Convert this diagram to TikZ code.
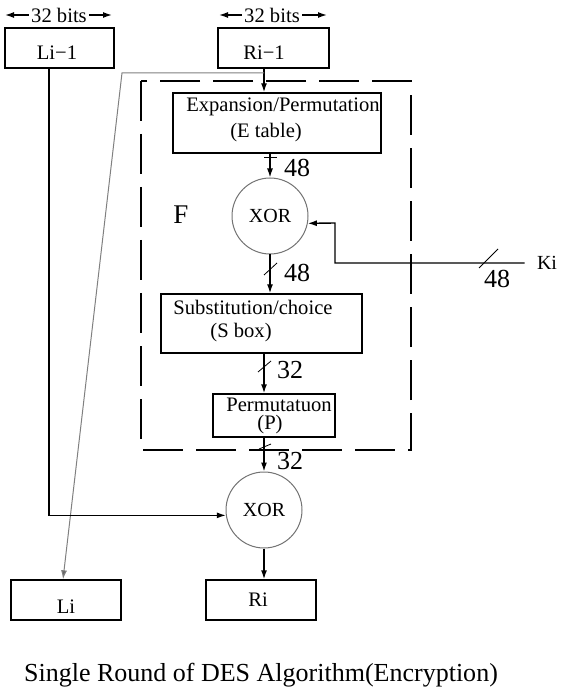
\documentclass[tikz,border=0pt]{standalone}
\usepackage{fontspec}
\setmainfont{Liberation Serif}
\usetikzlibrary{arrows.meta,calc}

\begin{document}
\begin{tikzpicture}[x=0.5pt, y=-0.5pt,
	box/.style={draw, line width=0.7pt, inner sep=0pt},
	xorgate/.style={circle, draw=black!55, line width=0.5pt, minimum size=38pt, inner sep=0pt, font=\fontsize{10}{12}\selectfont},
	arr/.style={line width=0.7pt, -{Latex[length=4.5pt, width=3pt]}},
	grayarr/.style={draw=black!50, line width=0.5pt, -{Latex[length=4.5pt, width=3pt, fill=black!60]}},
	slash/.style={line width=0.4pt},
	fbox/.style={line width=0.7pt, dash pattern=on 20pt off 6.5pt},
	btxt/.style={inner sep=1pt, font=\fontsize{10.3}{12}\selectfont},
	wlabel/.style={inner sep=0pt, font=\fontsize{13}{15}\selectfont}]
	\useasboundingbox (0,0) rectangle (561,694);

	% Define the nodes with specific positions
	\node[btxt] (lbits) at (59,15) {32 bits};
	\node[btxt] (rbits) at (272,15) {32 bits};
	\coordinate (lbitsa) at (5,15);
	\coordinate (lbitsb) at (112,15);
	\coordinate (rbitsa) at (219,15);
	\coordinate (rbitsb) at (327,15);

	\node[box, minimum width=54.5pt, minimum height=20pt] (lprev) at (59.5,48) {};
	\node[btxt] (lprevtxt) at (57,53) {Li−1};
	\node[box, minimum width=55.5pt, minimum height=20pt] (rprev) at (273.5,48) {};
	\node[btxt] (rprevtxt) at (264,53) {Ri−1};

	\node[box, minimum width=104pt, minimum height=30pt] (ep) at (277,123) {};
	\node[btxt] (eptxta) at (283,107) {Expansion/Permutation};
	\node[btxt] (eptxtb) at (266,133) {(E table)};

	\node[xorgate] (xor1) at (270,216) {XOR};
	\node[inner sep=0pt, font=\fontsize{13.5}{15}\selectfont] (flabel) at (181,215) {F};
	\node[inner xsep=6pt, inner ysep=1pt, font=\fontsize{10}{12}\selectfont] (ki) at (547,263) {Ki};
	\coordinate (kbend) at (335,223);

	\node[box, minimum width=100.5pt, minimum height=29.5pt] (sb) at (261.5,323.5) {};
	\node[btxt] (sbtxta) at (253,307) {Substitution/choice};
	\node[btxt] (sbtxtb) at (241,333) {(S box)};

	\node[box, minimum width=61pt, minimum height=21.5pt] (pm) at (274,415.5) {};
	\node[btxt] (pmtxta) at (279,405) {Permutatuon};
	\node[btxt] (pmtxtb) at (270,425) {(P)};

	\node[xorgate] (xor2) at (264,510) {XOR};

	\node[box, minimum width=55pt, minimum height=20pt] (li) at (66,600) {};
	\node[btxt] (litxt) at (66,607) {Li};
	\node[box, minimum width=55pt, minimum height=20pt] (ri) at (261,600) {};
	\node[btxt] (ritxt) at (258,600) {Ri};

	\node[inner sep=0pt, font=\fontsize{13}{15}\selectfont] (title) at (261,675) {Single Round of DES Algorithm(Encryption)};

	% The function box F
	\draw[fbox] (141,81) rectangle (411,450);

	% Draw the edges between nodes with labels
	\draw[arr] (lbits.west) -- (lbitsa);
	\draw[arr] (lbits.east) -- (lbitsb);
	\draw[arr] (rbits.west) -- (rbitsa);
	\draw[arr] (rbits.east) -- (rbitsb);

	\draw[arr] (rprevtxt |- rprev.south) -- (rprevtxt |- ep.north);
	\coordinate (gsplit) at (264,73);
	\coordinate (gbend) at (122,73);
	\draw[grayarr] (gsplit) -- (gbend) -- ($(li.north)+(-3,0)$);

	\draw[arr] (xor1 |- ep.south) -- (xor1.north);
	\draw[slash] (264,157) -- (277,157);
	\node[wlabel] (w1) at (297,168) {48};

	\draw[arr] (ki.west) -| (kbend) -- (xor1.-11);
	\draw[slash] (479,268) -- (498,249);
	\node[wlabel] (w2) at (497,279) {48};

	\draw[arr] (xor1.south) -- (xor1 |- sb.north);
	\draw[slash] (264,275) -- (277,263);
	\node[wlabel] (w3) at (297,273) {48};

	\draw[arr] (xor2 |- sb.south) -- (xor2 |- pm.north);
	\draw[slash] (258,372) -- (271,361);
	\node[wlabel] (w4) at (290,370) {32};

	\draw[arr] (xor2 |- pm.south) -- (xor2.north);
	\draw[slash] (259,449) -- (271,444);
	\node[wlabel] (w5) at (290,461) {32};

	\draw[arr] ($(lprev.south)+(-10.5,0)$) |- (xor2.188);
	\draw[arr] (xor2.south) -- (xor2 |- ri.north);
\end{tikzpicture}
\end{document}
